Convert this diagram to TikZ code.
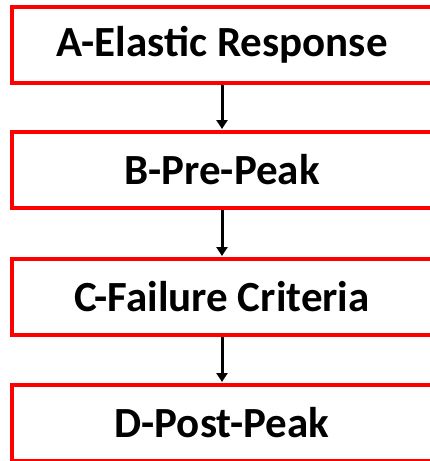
\documentclass[tikz,border=0pt]{standalone}
\usepackage{fontspec}
\setmainfont{Carlito}
\usetikzlibrary{arrows.meta}
\begin{document}
\begin{tikzpicture}[x=1pt,y=-1pt,
  stagebox/.style={draw=red, line width=4pt, fill=white, minimum width=420pt, minimum height=76pt, inner sep=0pt, font=\fontsize{43}{47}\selectfont\bfseries},
  flow/.style={draw=black, line width=3pt, -{Triangle[length=9pt,width=11pt]}, shorten >=1pt}]
\useasboundingbox (0,0) rectangle (429,461);
\node[stagebox] (A) at (222,45) {A-Elastic Response};
\node[stagebox] (B) at (222,170) {B-Pre-Peak};
\node[stagebox] (C) at (222,297) {C-Failure Criteria};
\node[stagebox] (D) at (222,423) {D-Post-Peak};
\draw[flow] (A) -- (B);
\draw[flow] (B) -- (C);
\draw[flow] (C) -- (D);
\end{tikzpicture}
\end{document}
